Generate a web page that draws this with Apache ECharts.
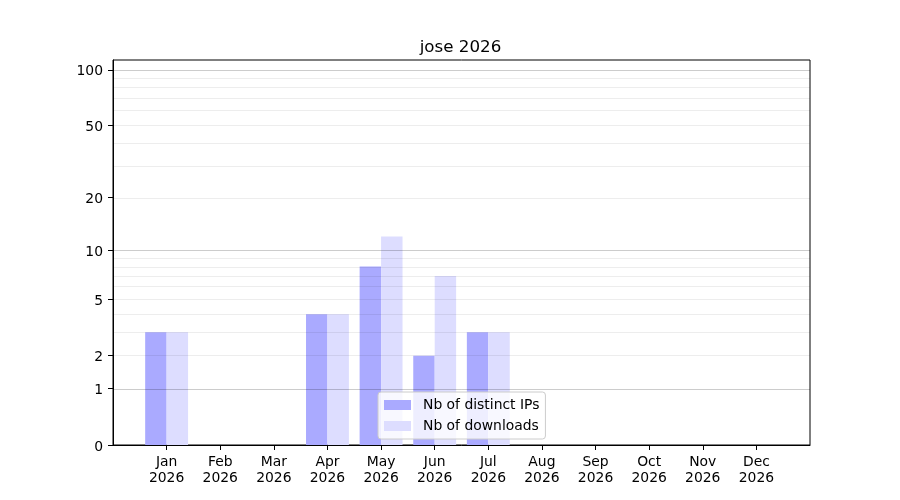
<!DOCTYPE html>
<html><head><meta charset="utf-8">
<script src="https://cdn.jsdelivr.net/npm/echarts@6/dist/echarts.min.js"></script>
<style>html,body{margin:0;padding:0;background:#fff}#c{width:900px;height:500px}</style>
</head><body><div id="c"></div>
<script>
const chartTitle = 'jose 2026';
const months = ['Jan','Feb','Mar','Apr','May','Jun','Jul','Aug','Sep','Oct','Nov','Dec'];
const year = '2026';
const distinctIPs = [3,0,0,4,8,2,3,0,0,0,0,0];
const downloads = [3,0,0,4,12,7,3,0,0,0,0,0];
const yTicks = [0,1,2,5,10,20,50,100];
const majorGrid = [1,10,100];
const minorGrid = [2,3,4,5,6,7,8,9,20,30,40,50,60,70,80,90];
const yTop = 113;

const f = v => Math.log10(1 + v);
const inv = t => Math.round(Math.pow(10, t) - 1);
const cats = [''].concat(months.map(m => m + '\n' + year)).concat(['']);
const pad = arr => [null].concat(arr.map(f)).concat([null]);
const font = 'DejaVu Sans';
const chart = echarts.init(document.getElementById('c'), null, {renderer:'canvas'});
chart.setOption({
  animation: false,
  backgroundColor: '#fff',
  textStyle: {fontFamily: font},
  title: {text: chartTitle, left: 455.5, top: 34, textAlign: 'center',
    textStyle: {fontFamily: font, fontSize: 16.7, fontWeight: 'normal', color: '#000'}},
  grid: {left: 113, right: 90, top: 60, bottom: 55, show: true, borderColor: '#000', borderWidth: 1, backgroundColor: 'transparent'},
  legend: {
    orient: 'vertical', left: 378, top: 392,
    padding: [6, 6, 6, 6], itemGap: 7, itemWidth: 27, itemHeight: 10, icon: 'rect',
    backgroundColor: 'rgba(255,255,255,0.8)', borderColor: '#cccccc', borderWidth: 1, borderRadius: 3,
    textStyle: {fontFamily: font, fontSize: 13.9, color: '#000', padding: [0,0,0,7], lineHeight: 14},
    data: ['Nb of distinct IPs', 'Nb of downloads']
  },
  xAxis: {
    type: 'category', data: cats, boundaryGap: false,
    axisLine: {lineStyle: {color: '#000', width: 1}},
    axisTick: {length: 5, lineStyle: {color: '#000'}, interval: (i) => i > 0 && i < cats.length - 1},
    axisLabel: {interval: (i) => i > 0 && i < cats.length - 1, color: '#000', fontFamily: font, fontSize: 13.9, lineHeight: 16, margin: 9},
    splitLine: {show: false}
  },
  yAxis: {
    type: 'value', min: 0, max: f(yTop),
    axisLine: {show: true, lineStyle: {color: '#000', width: 1}},
    axisTick: {show: true, length: 5, lineStyle: {color: '#000'}, customValues: yTicks.map(f)},
    axisLabel: {color: '#000', fontFamily: font, fontSize: 13.9, margin: 10, customValues: yTicks.map(f),
      formatter: v => '{t|' + inv(v) + '}',
      rich: {t: {fontFamily: font, fontSize: 13.9, color: '#000', padding: [4, 0, 0, 0]}}},
    splitLine: {show: false}
  },
  series: [
    {name: 'minor', type: 'line', data: [], z: 1, silent: true,
      markLine: {silent: true, symbol: 'none', label: {show: false}, animation: false,
        lineStyle: {color: 'rgba(0,0,0,0.07)', width: 1, type: 'solid'},
        data: minorGrid.map(v => ({yAxis: f(v)}))}},
    {name: 'Nb of distinct IPs', type: 'bar', data: pad(distinctIPs), barWidth: '40%', barGap: '0%', z: 2,
      itemStyle: {color: '#aaaaff'}},
    {name: 'Nb of downloads', type: 'bar', data: pad(downloads), barWidth: '40%', barGap: '0%', z: 2,
      itemStyle: {color: '#ddddff'}},
    {name: 'major', type: 'line', data: [], z: 3, silent: true,
      markLine: {silent: true, symbol: 'none', label: {show: false}, animation: false,
        lineStyle: {color: 'rgba(0,0,0,0.2)', width: 1, type: 'solid'},
        data: majorGrid.map(v => ({yAxis: f(v)}))}}
  ]
});
</script></body></html>
